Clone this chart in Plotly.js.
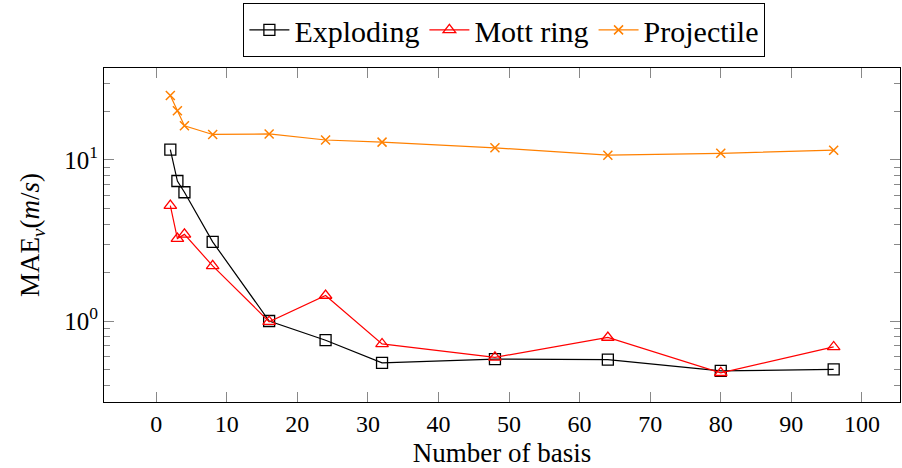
<!DOCTYPE html>
<html>
<head>
<meta charset="utf-8">
<script src="https://cdn.plot.ly/plotly-3.0.1.min.js"></script>
<style>html,body{margin:0;padding:0;background:#fff;}#chart{width:902px;height:468px;}</style>
</head>
<body>
<div id="chart"></div>
<script>
var basis = [2, 3, 4, 8, 16, 24, 32, 48, 64, 80, 96];
var exploding = [11.6, 7.4, 6.3, 3.1, 1.0, 0.76, 0.55, 0.58, 0.575, 0.49, 0.50];
var mottRing = [5.2, 3.25, 3.45, 2.2, 0.99, 1.44, 0.72, 0.595, 0.79, 0.477, 0.69];
var projectile = [25.1, 20.2, 16.3, 14.4, 14.5, 13.3, 12.9, 11.9, 10.7, 11.0, 11.5];
var seriesNames = ['Exploding', 'Mott ring', 'Projectile'];
var xTicks = [0, 10, 20, 30, 40, 50, 60, 70, 80, 90, 100];
var yTicks = [1, 10];
var yTickText = ['10<sup>0</sup>', '10<sup>1</sup>'];
var yMinor = [0.4, 0.5, 0.6, 0.7, 0.8, 0.9, 2, 3, 4, 5, 6, 7, 8, 9, 20, 30];

var font = 'Liberation Serif';
var traces = [
  {x: basis, y: exploding, name: seriesNames[0], mode: 'lines+markers',
   line: {color: '#000000', width: 1.2},
   marker: {symbol: 'square-open', size: 11, color: '#000000', line: {width: 1.3}}},
  {x: basis, y: mottRing, name: seriesNames[1], mode: 'lines+markers',
   line: {color: '#ff0000', width: 1.2},
   marker: {symbol: 'triangle-up-open', size: 11, color: '#ff0000', line: {width: 1.3}}},
  {x: basis, y: projectile, name: seriesNames[2], mode: 'lines+markers',
   line: {color: '#ff8000', width: 1.2},
   marker: {symbol: 'x-thin-open', size: 9, color: '#ff8000', line: {width: 1.5, color: '#ff8000'}}}
];
var layout = {
  width: 902, height: 468,
  margin: {l: 104, r: 2, t: 68, b: 66},
  paper_bgcolor: '#ffffff', plot_bgcolor: '#ffffff',
  font: {family: font, size: 24, color: '#000'},
  showlegend: true,
  legend: {orientation: 'h', x: 0.503, xanchor: 'center', y: 1.195, yanchor: 'top',
           bordercolor: '#000', borderwidth: 1, bgcolor: '#fff',
           font: {family: font, size: 30, color: '#000'}, itemwidth: 40, tracegroupgap: 0},
  xaxis: {range: [-7.4, 105.4], tickmode: 'array', tickvals: xTicks,
          ticks: 'inside', ticklen: 10, tickcolor: '#888', tickwidth: 1,
          showline: true, linecolor: '#000', linewidth: 1, mirror: 'ticks',
          showgrid: false, zeroline: false,
          tickfont: {family: font, size: 24, color: '#000'},
          title: {text: 'Number of basis', font: {family: font, size: 27, color: '#000'}, standoff: 13}},
  yaxis: {type: 'log', range: [-0.503, 1.571], tickmode: 'array', tickvals: yTicks, ticktext: yTickText,
          ticks: 'inside', ticklen: 10, tickcolor: '#888', tickwidth: 1,
          minor: {tickmode: 'array', tickvals: yMinor, ticks: 'inside', ticklen: 6, tickcolor: '#888', tickwidth: 1, showgrid: false},
          showline: true, linecolor: '#000', linewidth: 1, mirror: 'ticks',
          showgrid: false, zeroline: false,
          tickfont: {family: font, size: 25, color: '#000'},
          title: {text: 'MAE<sub><i>v</i></sub>(<i>m</i>/<i>s</i>)', font: {family: font, size: 27, color: '#000'}, standoff: 16}}
};
Plotly.newPlot('chart', traces, layout, {displayModeBar: false, staticPlot: true});
</script>
</body>
</html>
